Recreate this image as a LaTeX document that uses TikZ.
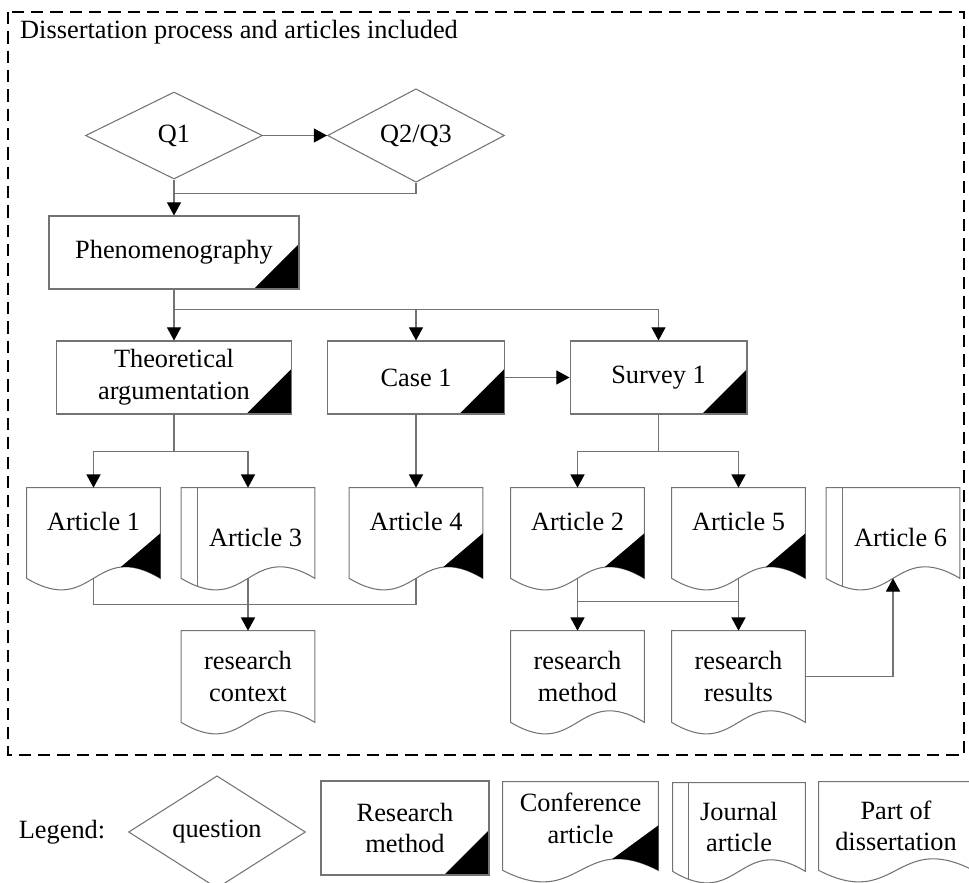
\documentclass[tikz,border=0pt]{standalone}
\usepackage{fontspec}
\setmainfont{Liberation Serif}
\usetikzlibrary{shapes.geometric, arrows.meta, calc}
\definecolor{lineclr}{RGB}{115,115,115}

% outline of a document shape, wavy bottom through (#1.south)
\newcommand{\docoutline}[1]{%
  \draw[lineclr, line width=0.6pt] (#1.north west) -- (#1.south west)
    .. controls ($(#1.south)+(0,-0.8cm)$) and ($(#1.south)+(0,0.8cm)$) .. (#1.south east)
    -- (#1.north east) -- cycle;}
% black corner of a conference article
\newcommand{\confcorner}[1]{%
  \fill ($(#1.south east)+(0,0.9cm)$) -- ($(#1.south west)!0.703!(#1.south east)+(0,0.224cm)$)
    .. controls ($(#1.south west)!0.781!(#1.south east)+(0,0.25cm)$)
    and ($(#1.south west)!0.875!(#1.south east)+(0,0.2cm)$) .. (#1.south east) -- cycle;}
% binding line of a journal article
\newcommand{\journalline}[1]{%
  \draw[lineclr, line width=0.6pt] ($(#1.north west)+(0.32cm,0)$) -- ($(#1.south west)+(0.32cm,-0.16cm)$);}

\begin{document}
\begin{tikzpicture}[x=0.02cm, y=-0.02cm, font=\fontsize{15}{18}\selectfont,
    question/.style={diamond, draw=lineclr, line width=0.6pt, inner sep=0pt,
      minimum width=3.54cm, minimum height=1.74cm},
    method/.style={rectangle, draw=lineclr, line width=0.6pt, align=center, inner sep=2pt,
      minimum height=1.46cm,
      path picture={\fill (path picture bounding box.south east) -- ++(0,0.9cm) -- ++(-0.9cm,-0.9cm) -- cycle;}},
    doc/.style={rectangle, align=center, inner sep=2pt, minimum width=2.66cm, minimum height=1.8cm},
    conf/.style={doc, text depth=0.45cm},
    journal/.style={doc, text height=0.56cm},
    link/.style={lineclr, line width=0.6pt},
    arr/.style={link, -{Triangle[length=7.5pt, width=8pt, color=black]}}]
  \useasboundingbox (0,0) rectangle (969,882);
  % frame
  \draw[black, line width=1pt, dash pattern=on 7pt off 4pt] (8,12) rectangle (964,755);
  \node[anchor=base west] (title) at (14,39) {Dissertation process and articles included};
  % questions
  \node[question] (q1) at (174,135.5) {Q1};
  \node[question] (q23) at (416,135.5) {Q2/Q3};
  % research methods
  \node[method, minimum width=5cm] (phen) at (174,252.5) {Phenomenography};
  \node[method, minimum width=4.7cm] (theo) at (174,377.5) {Theoretical\\argumentation};
  \node[method, minimum width=3.54cm] (case) at (416,377.5) {Case 1};
  \node[method, minimum width=3.54cm] (survey) at (658.5,377.5) {Survey 1};
  % articles
  \node[conf] (a1) at (93.5,533) {Article 1};
  \node[journal] (a3) at (248,533) {\hspace*{0.3cm}Article 3};
  \node[conf] (a4) at (416,533) {Article 4};
  \node[conf] (a2) at (577.5,533) {Article 2};
  \node[conf] (a5) at (738.5,533) {Article 5};
  \node[journal] (a6) at (893,533) {\hspace*{0.3cm}Article 6};
  % parts of dissertation
  \node[doc, minimum height=1.82cm] (ctx) at (248,676.5) {research\\context};
  \node[doc, minimum height=1.82cm] (meth) at (577.5,676.5) {research\\method};
  \node[doc, minimum height=1.82cm] (res) at (738.5,676.5) {research\\results};
  \docoutline{a1} \confcorner{a1}
  \docoutline{a3} \journalline{a3}
  \docoutline{a4} \confcorner{a4}
  \docoutline{a2} \confcorner{a2}
  \docoutline{a5} \confcorner{a5}
  \docoutline{a6} \journalline{a6}
  \docoutline{ctx}
  \docoutline{meth}
  \docoutline{res}
  % connectors
  \coordinate (qjoin) at ($(q1.south)!0.4!(phen.north)$);
  \coordinate (pjoin) at ($(phen.south)!0.4!(theo.north)$);
  \coordinate (tjoin) at ($(theo.south)!0.5!(theo.south |- a1.north)$);
  \coordinate (sjoin) at ($(survey.south)!0.5!(survey.south |- a2.north)$);
  \coordinate (ajoin) at ($(a3.south)!0.5!(ctx.north)$);
  \coordinate (mjoin) at ($(a2.south)!0.45!(a2.south |- meth.north)$);
  \draw[arr] (q1.east) -- (q23.west);
  \draw[link] (q23.south) |- (qjoin);
  \draw[arr] (q1.south) -- (phen.north);
  \draw[arr] (phen.south) -- (theo.north);
  \draw[arr] (pjoin) -| (case.north);
  \draw[arr] (pjoin) -| (survey.north);
  \draw[arr] (case.east) -- (survey.west);
  \draw[link] (theo.south) -- (tjoin);
  \draw[arr] (tjoin) -| (a1.north);
  \draw[arr] (tjoin) -| (a3.north);
  \draw[arr] (case.south) -- (a4.north);
  \draw[link] (survey.south) -- (sjoin);
  \draw[arr] (sjoin) -| (a2.north);
  \draw[arr] (sjoin) -| (a5.north);
  \draw[link] (a1.south) |- (ajoin);
  \draw[link] (a4.south) |- (ajoin);
  \draw[arr] (a3.south) -- (ctx.north);
  \draw[arr] (a2.south) -- (meth.north);
  \draw[arr] (a5.south) -- (res.north);
  \draw[link] (mjoin) -| (a5.south);
  \draw[arr] (res.east) -| (a6.south);
  % legend
  \node[anchor=base] (legend) at (62,838) {Legend:};
  \node[question] (lq) at (217,832) {question};
  \node[method, minimum width=3.36cm, minimum height=1.88cm] (lm) at (405,828) {Research\\method};
  \node[conf, minimum width=3.1cm, minimum height=1.76cm, text depth=0.3cm] (lc) at (580.5,826) {Conference\\article};
  \node[doc, minimum width=2.64cm, minimum height=1.76cm] (lj) at (739,827) {Journal\\article};
  \node[doc, minimum width=3.08cm, minimum height=1.76cm] (lp) at (896,826) {Part of\\dissertation};
  \docoutline{lc} \confcorner{lc}
  \docoutline{lj} \journalline{lj}
  \docoutline{lp}
\end{tikzpicture}
\end{document}
